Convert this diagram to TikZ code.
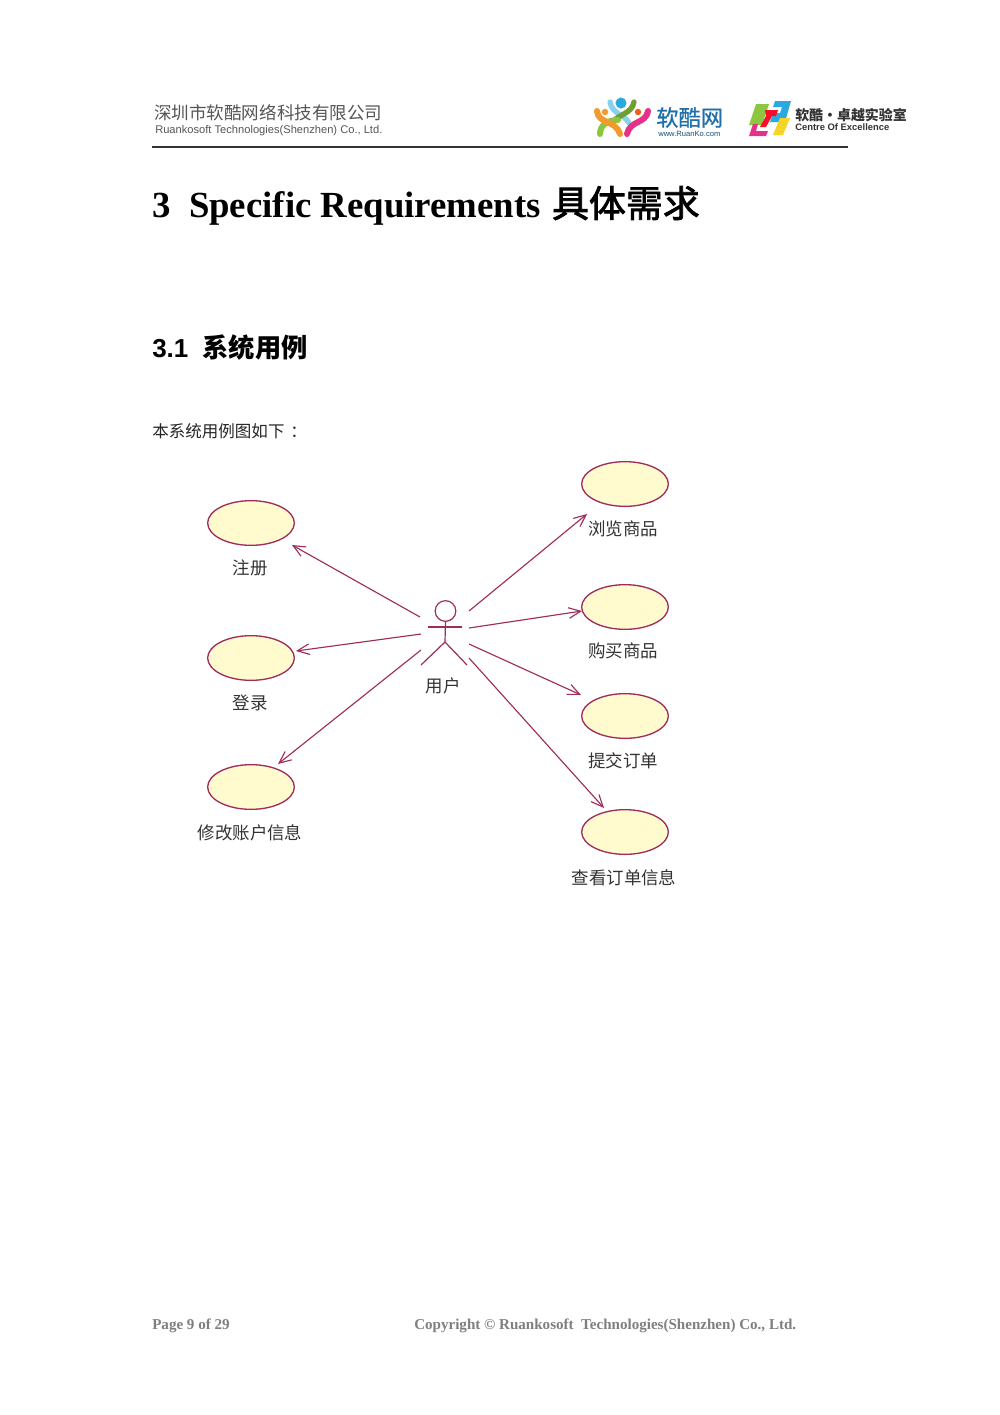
\documentclass[tikz,border=0pt]{standalone}
\usepackage{fontspec}
\setmainfont{Liberation Serif}
\newfontfamily\lsans{Liberation Sans}
\newfontfamily\cjk{Noto Sans CJK SC}
\newfontfamily\cjkm[FakeBold=0.7]{Noto Sans CJK SC}
\newfontfamily\cjkh[FakeBold=2.2]{Noto Sans CJK SC}
\usetikzlibrary{arrows.meta,shapes.geometric}
\definecolor{umlline}{HTML}{A02C5C}
\definecolor{umlfill}{HTML}{FFFBCF}
\definecolor{hdr}{HTML}{555555}
\definecolor{foot}{HTML}{7F7F7F}
\definecolor{lgreen}{HTML}{8CC63F}
\definecolor{lblue}{HTML}{29A9E0}
\definecolor{lpink}{HTML}{E6308A}
\definecolor{lyellow}{HTML}{F5D327}
\definecolor{lorange}{HTML}{F29A2E}
\definecolor{lnavy}{HTML}{1F6FA8}
\newcommand{\fs}[1]{\fontsize{#1}{#1}\selectfont}
\tikzset{
 x=0.75pt,y=-0.75pt,
 usecase/.style={ellipse,draw=umlline,fill=umlfill,line width=1pt,minimum width=65pt,minimum height=33.5pt,inner sep=0pt},
 assoc/.style={draw=umlline,line width=0.85pt,-{Straight Barb[length=9pt,width=8pt,line width=0.85pt]}},
 actorline/.style={draw=umlline,line width=0.9pt},
 uml/.style={font=\cjk\fs{13.1},text=black!80,inner sep=0pt},
 txt/.style={anchor=west,inner sep=0pt},
}
\begin{document}
\begin{tikzpicture}
\useasboundingbox (0,0) rectangle (1000,1415);
\fill[white] (0,0) rectangle (1000,1415);
% header
\node[txt,text=hdr] (co) at (154,113) {\cjk\fs{13.15}深圳市软酷网络科技有限公司};
\node[txt,text=hdr] (coen) at (155,130.5) {\lsans\fs{8.35}Ruankosoft Technologies(Shenzhen) Co., Ltd.};
\coordinate (ruleL) at (152,147);
\coordinate (ruleR) at (848,147);
\draw[line width=1.1pt,black!80] (ruleL) -- (ruleR);
% logo 1
\begin{scope}[line cap=round]
\draw[line width=4pt,lblue!55] (610,102) .. controls (612,114) and (624,114) .. (629,123);
\draw[line width=4pt,lgreen!80!black] (634,102) .. controls (632,114) and (618,114) .. (612,123);
\draw[line width=4.5pt,lgreen] (600,134) .. controls (600,125) and (608,120) .. (618,120);
\draw[line width=4.5pt,lorange] (597,111) .. controls (598,124) and (616,120) .. (620,134);
\draw[line width=4.5pt,lpink] (648,111) .. controls (646,124) and (630,120) .. (627,134);
\fill[lblue] (621,103) circle (5.5);
\fill[lorange] (605,112) circle (3.2);
\fill[lorange!60!red] (638,112) circle (3.2);
\end{scope}
\node[txt,text=lnavy] (brand) at (656,117.5) {\cjkm\fs{16.7}软酷网};
\node[txt,text=lnavy!70!black] (brandurl) at (658,133.5) {\lsans\fs{5.7}www.RuanKo.com};
% logo 2
\fill[lgreen] (756,104) -- (769,104) -- (762,125) -- (749,125) -- cycle;
\fill[lblue] (775,101) -- (791,101) -- (785,122) -- (770,122) -- (773,113) -- (780,113) -- (782,107) -- (773,107) -- cycle;
\fill[lyellow] (780,118) -- (790,118) -- (783,135) -- (773,135) -- cycle;
\fill[red!70!lpink] (765,110) -- (778,110) -- (776,116) -- (772,116) -- (766,127) -- (760,127) -- (766,116) -- cycle;
\fill[lpink] (753,124) -- (758,124) -- (756,131) -- (768,131) -- (766,136) -- (749,136) -- cycle;
\node[txt,text=black!80] (lab) at (795,115) {\cjk\bfseries\fs{10.45}软酷·卓越实验室};
\node[txt,text=black!80] (labe) at (795,127.5) {\lsans\bfseries\fs{7.05}Centre Of Excellence};
% headings
\node[txt] (h1) at (152,205.5) {\bfseries\fs{27.6}3\hspace{0.5em}Specific Requirements\hspace{0.3em}\mdseries\cjkh\fs{27.7}具体需求};
\node[txt] (h2) at (152,347) {\lsans\bfseries\fs{19.5}3.1\hspace{0.55em}\cjk\fs{19.7}系统用例};
\node[txt,text=black!85] (intro) at (152,431.5) {\cjk\fs{12.4}本系统用例图如下\hspace{0.35em}：};
% use cases
\node[usecase] (reg) at (251,523) {};
\node[usecase] (login) at (251,658) {};
\node[usecase] (acct) at (251,787) {};
\node[usecase] (browse) at (625,484) {};
\node[usecase] (buy) at (625,607) {};
\node[usecase] (submit) at (625,716) {};
\node[usecase] (view) at (625,832) {};
\node[uml] (lreg) at (250,568) {注册};
\node[uml] (llogin) at (250,703) {登录};
\node[uml] (lacct) at (250,833) {修改账户信息};
\node[uml] (lbrowse) at (623,529) {浏览商品};
\node[uml] (lbuy) at (623,651) {购买商品};
\node[uml] (lsubmit) at (623,761) {提交订单};
\node[uml] (lview) at (624,878) {查看订单信息};
% actor
\node[circle,actorline,minimum size=15.5pt,inner sep=0pt] (head) at (445.5,611) {};
\coordinate (hip) at (445,642);
\coordinate (armL) at (428,627);
\coordinate (armR) at (462,627);
\coordinate (legL) at (421,665);
\coordinate (legR) at (467,665);
\draw[actorline] (head.south) -- (hip) -- (legL);
\draw[actorline] (hip) -- (legR);
\draw[actorline] (armL) -- (armR);
\node[uml] (lactor) at (443,686) {用户};
% associations
\coordinate (a1) at (420,617); \coordinate (t1) at (292,545);
\coordinate (a2) at (421,634); \coordinate (t2) at (296,651);
\coordinate (a3) at (421,650); \coordinate (t3) at (278,764);
\coordinate (a4) at (469,611); \coordinate (t4) at (587,514);
\coordinate (a5) at (469,628); \coordinate (t5) at (582,611);
\coordinate (a6) at (469,644); \coordinate (t6) at (581,695);
\coordinate (a7) at (469,658); \coordinate (t7) at (604,808);
\draw[assoc] (a1) -- (t1);
\draw[assoc] (a2) -- (t2);
\draw[assoc] (a3) -- (t3);
\draw[assoc] (a4) -- (t4);
\draw[assoc] (a5) -- (t5);
\draw[assoc] (a6) -- (t6);
\draw[assoc] (a7) -- (t7);
% footer
\node[txt,text=foot] (fl) at (152,1325.5) {\bfseries\fs{11.3}Page 9 of 29};
\node[txt,text=foot] (fr) at (414,1325.5) {\bfseries\fs{11.3}Copyright © Ruankosoft\hspace{0.5em}Technologies(Shenzhen) Co., Ltd.};
\end{tikzpicture}
\end{document}
